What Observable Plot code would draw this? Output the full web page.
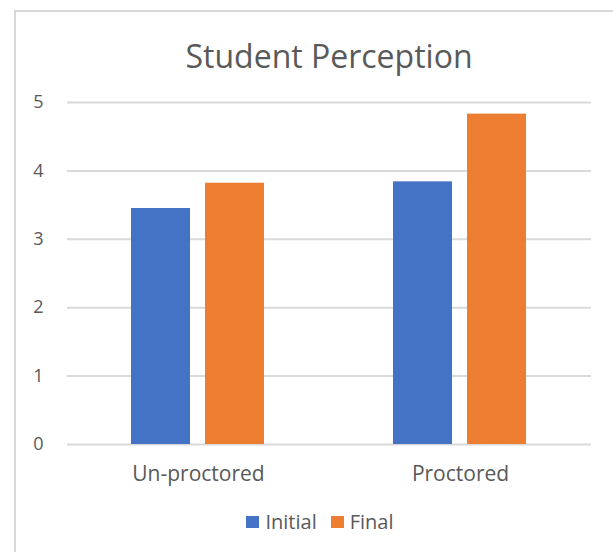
<!DOCTYPE html>
<html>
<head>
<meta charset="utf-8">
<script src="https://cdn.jsdelivr.net/npm/d3@7"></script>
<script src="https://cdn.jsdelivr.net/npm/@observablehq/plot@0.6"></script>
<style>
  html, body { margin: 0; padding: 0; background: #fff; }
  #wrap { position: relative; width: 613px; height: 552px; overflow: hidden; font-family: "Open Sans", sans-serif; color: #595959; }
  #frame { position: absolute; left: 14px; top: 10px; width: 800px; height: 800px; border: 2px solid #d9d9d9; box-sizing: border-box; }
  #title { position: absolute; left: 0; width: 658px; top: 35px; text-align: center; font-size: 32px; line-height: 42px; color: #595959; }
  #chart { position: absolute; left: 0; top: 0; }
  #legend { position: absolute; top: 508px; left: 0; width: 640px; display: flex; justify-content: center; gap: 14px; font-size: 20px; line-height: 28px; }
  #legend .item { display: flex; align-items: center; gap: 6px; }
  #legend .sw { width: 13px; height: 12px; display: inline-block; }
</style>
</head>
<body>
<div id="wrap">
  <div id="frame"></div>
  <div id="title">Student Perception</div>
  <div id="chart"></div>
  <div id="legend"></div>
</div>
<script>
const categories = ["Un-proctored", "Proctored"];
const series = ["Initial", "Final"];
const initialValues = [3.45, 3.84];
const finalValues = [3.82, 4.83];
const yTicks = [0, 1, 2, 3, 4, 5];
const colors = ["#4472C4", "#ED7D31"];

const rows = [];
categories.forEach((c, i) => {
  rows.push({category: c, series: "Initial", value: initialValues[i]});
  rows.push({category: c, series: "Final", value: finalValues[i]});
});

const chart = Plot.plot({
  width: 613,
  height: 552,
  marginLeft: 67,
  marginRight: 22,
  marginTop: 102,
  marginBottom: 108,
  style: {fontFamily: "Open Sans, sans-serif", color: "#595959", background: "transparent"},
  fx: {domain: categories, padding: 0, label: null, axis: null},
  x: {domain: series, paddingInner: 0.2, paddingOuter: 0.853, axis: null},
  y: {domain: [0, 5], label: null, axis: null},
  color: {domain: series, range: colors},
  marks: [
    Plot.ruleY(yTicks, {stroke: "#d9d9d9", strokeWidth: 2}),
    Plot.barY(rows, {fx: "category", x: "series", y: "value", fill: "series"}),
    Plot.axisY({ticks: yTicks, tickFormat: "d", tickSize: 0, tickPadding: 24, label: null, fontSize: 18, textAnchor: "end"}),
    Plot.axisFx({anchor: "bottom", tickSize: 0, tickPadding: 22, label: null, fontSize: 21})
  ]
});
document.getElementById("chart").appendChild(chart);

const legend = document.getElementById("legend");
series.forEach((s, i) => {
  const item = document.createElement("div");
  item.className = "item";
  const sw = document.createElement("span");
  sw.className = "sw";
  sw.style.background = colors[i];
  const t = document.createElement("span");
  t.textContent = s;
  item.appendChild(sw);
  item.appendChild(t);
  legend.appendChild(item);
});
</script>
</body>
</html>
